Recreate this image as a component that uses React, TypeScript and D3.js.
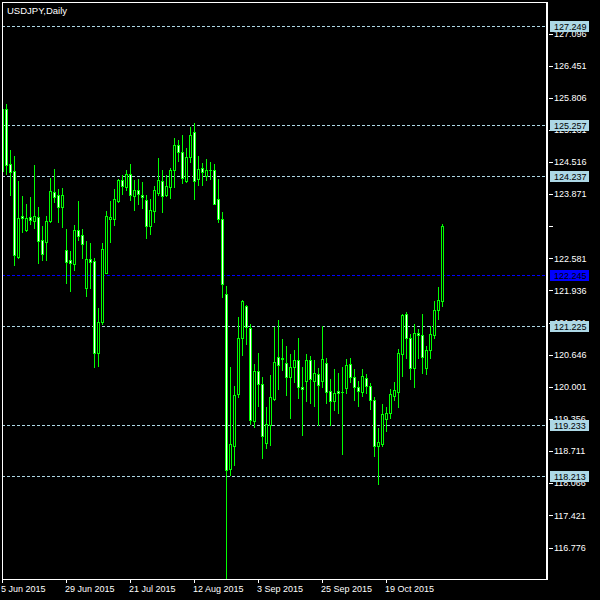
import React from "react";
import * as d3 from "d3";

const openP = [124.33,125.59,124.48,124.33,122.61,123.43,123.16,123.41,123.34,123.42,122.94,122.91,123.33,123.92,123.85,123.61,122.74,122.54,122.46,123.16,123.05,121.98,122.56,122.52,120.68,121.30,122.29,123.37,123.37,123.73,124.15,124.02,124.27,123.83,123.95,123.85,123.76,123.23,123.53,123.89,124.13,123.85,124.02,124.36,124.85,124.71,124.14,124.61,125.11,124.18,124.40,124.23,124.36,124.36,123.77,123.38,121.86,118.35,118.81,119.85,120.99,121.63,121.19,119.32,120.31,120.05,118.87,119.23,119.75,120.61,120.59,120.48,120.20,120.40,120.55,120.00,120.11,120.54,120.12,120.25,120.11,120.49,119.91,119.72,119.91,119.90,119.98,120.46,120.20,119.99,119.90,120.17,120.01,119.73,118.81,118.86,119.36,119.48,119.82,119.90,120.67,121.47,120.99,120.39,121.09,121.05,120.39,120.75,121.05,121.55,121.73];
const highP = [125.66,125.68,124.75,124.63,124.13,123.83,123.67,123.81,124.45,123.61,123.23,123.43,124.19,124.37,123.97,123.99,123.18,122.72,123.25,123.73,123.18,122.93,122.88,122.58,121.59,122.88,123.53,123.73,123.97,124.18,124.25,124.36,124.47,124.15,124.18,124.11,123.85,123.78,124.03,124.59,124.36,124.25,124.40,125.00,124.96,125.06,124.79,125.21,125.29,124.63,124.50,124.57,124.52,124.47,124.17,123.51,122.02,120.40,120.01,121.40,121.74,121.64,121.26,120.46,120.69,120.20,119.59,120.23,121.20,121.34,120.97,120.83,120.66,120.74,120.99,120.40,120.66,120.62,120.54,120.39,121.22,120.59,120.15,120.35,120.27,120.40,120.56,120.58,120.35,120.11,120.35,120.25,120.07,119.80,119.17,119.65,119.60,119.95,120.09,120.77,121.47,121.51,121.07,121.26,121.17,121.47,120.82,121.22,121.72,122.00,123.27];
const lowP = [124.31,124.27,123.85,122.44,122.59,123.11,123.13,123.27,123.20,122.48,122.54,122.54,123.32,123.71,123.31,123.21,122.09,121.93,122.34,122.94,122.58,121.82,121.98,120.40,120.43,121.27,122.28,122.91,123.25,123.71,123.88,123.95,123.75,123.55,123.68,123.59,122.99,123.07,123.31,123.85,123.51,123.84,123.79,124.02,124.54,124.10,124.11,124.52,123.78,124.05,124.05,124.15,124.17,123.67,123.31,121.81,116.17,118.23,118.43,119.79,120.64,120.86,119.26,119.20,119.61,118.58,118.78,118.83,119.74,119.95,120.33,119.83,119.38,120.10,119.78,119.04,119.72,119.68,119.62,119.23,120.00,119.68,119.24,119.53,119.48,118.66,119.87,120.10,119.73,119.62,119.82,119.87,119.55,118.61,118.06,118.81,119.12,119.38,119.73,119.60,120.22,120.58,120.15,120.00,120.58,120.27,120.25,120.59,120.99,121.36,121.62];
const closeP = [125.59,124.46,124.32,122.64,123.40,123.39,123.40,123.36,123.43,122.93,122.67,123.34,123.94,123.81,123.61,123.85,122.51,122.48,123.16,123.03,122.86,122.56,122.51,120.68,121.31,122.76,123.43,123.42,123.77,124.15,124.04,124.28,123.85,123.95,123.88,123.81,123.23,123.55,123.95,124.15,123.83,124.03,124.36,124.85,124.72,124.20,124.61,125.05,124.13,124.38,124.32,124.36,124.35,123.68,123.38,122.06,118.34,118.85,119.83,120.99,121.72,121.20,119.34,120.31,120.05,119.01,119.26,119.79,120.51,120.45,120.56,120.19,120.40,120.55,119.99,119.96,120.55,120.15,120.27,120.03,120.57,119.90,119.72,119.87,119.87,119.89,120.45,120.20,119.99,119.92,120.21,120.02,119.73,118.81,118.89,119.45,119.48,119.85,119.93,120.69,121.44,120.99,120.39,121.09,121.04,120.60,120.75,121.06,121.54,121.74,123.23];

const dateTickIndex = [0, 16, 32, 48, 64, 80, 96];
const dateTickLabels = ["5 Jun 2015", "29 Jun 2015", "21 Jul 2015", "12 Aug 2015", "3 Sep 2015", "25 Sep 2015", "19 Oct 2015"];

const priceTicks = [127.096,126.451,125.806,125.161,124.516,123.871,123.226,122.581,121.936,121.291,120.646,120.001,119.356,118.711,118.066,117.421,116.776];
const hiddenPriceLabels = [123.226];

const levelLines = [127.249, 125.257, 124.237, 121.225, 119.233, 118.213];
const bidPrice = 122.245;

const title = "USDJPY,Daily";

const GREEN = "#00FF00";
const LIGHTBLUE = "#ADD8E6";
const BLUE = "#0000FF";
const FONT = "'Liberation Sans', Arial, sans-serif";

export default function App() {
  const W = 600, H = 600;
  const left = 2, top = 2, right = 547, bottom = 579;
  const n = openP.length;
  const x = d3.scaleLinear().domain([0, n - 1]).range([2.5, 2.5 + 4 * (n - 1)]);
  const y = d3.scaleLinear().domain([116.776, 127.096]).range([547.5, 33.5]);
  const r = (v: number) => Math.round(v);

  const candles = d3.range(n).map((i) => {
    const cx = x(i);
    const o = openP[i], c = closeP[i];
    const yt = r(y(Math.max(o, c)));
    const yb = r(y(Math.min(o, c)));
    const bull = c >= o;
    return (
      <g key={i}>
        <line x1={cx} x2={cx} y1={r(y(highP[i]))} y2={r(y(lowP[i])) + 1} stroke={GREEN} strokeWidth={1} />
        {yb - yt >= 1 ? (
          <rect x={cx - 1} y={yt + 0.5} width={2} height={yb - yt} fill={bull ? "#000" : "#fff"} stroke={GREEN} strokeWidth={1} />
        ) : (
          <line x1={cx - 1.5} x2={cx + 1.5} y1={yt + 0.5} y2={yt + 0.5} stroke={GREEN} strokeWidth={1} />
        )}
      </g>
    );
  });

  return (
    <svg width={W} height={H} style={{ position: "fixed", left: 0, top: 0, background: "#000" }} shapeRendering="crispEdges">
      <rect x={0} y={0} width={W} height={H} fill="#000" />
      <defs>
        <clipPath id="plot">
          <rect x={left + 1} y={top + 1} width={right - left - 2} height={bottom - top - 1} />
        </clipPath>
      </defs>
      <text x={7} y={13.5} fill="#fff" fontFamily={FONT} fontSize={9.5}>{title}</text>
      <g clipPath="url(#plot)">
        {levelLines.map((p) => (
          <line key={p} x1={left} x2={right} y1={r(y(p)) + 0.5} y2={r(y(p)) + 0.5} stroke={LIGHTBLUE} strokeDasharray="3,2" />
        ))}
        <line x1={left} x2={right} y1={r(y(bidPrice)) + 0.5} y2={r(y(bidPrice)) + 0.5} stroke={BLUE} strokeDasharray="3,2" />
        {candles}
      </g>
      {/* frame */}
      <line x1={left} x2={right + 1} y1={top + 0.5} y2={top + 0.5} stroke="#fff" />
      <line x1={left + 0.5} x2={left + 0.5} y1={top} y2={bottom + 1} stroke="#fff" />
      <line x1={left} x2={right + 1} y1={bottom + 0.5} y2={bottom + 0.5} stroke="#fff" />
      <line x1={right} x2={right} y1={top} y2={bottom + 1} stroke="#fff" strokeWidth={2} />
      {/* price axis */}
      {priceTicks.map((p) => (
        <g key={p}>
          <line x1={549} x2={553} y1={r(y(p)) + 0.5} y2={r(y(p)) + 0.5} stroke="#fff" />
          {hiddenPriceLabels.includes(p) ? null : (
            <text x={554} y={y(p)} dy="0.35em" fill="#fff" fontFamily={FONT} fontSize={9}>{p.toFixed(3)}</text>
          )}
        </g>
      ))}
      {levelLines.map((p) => (
        <g key={"b" + p}>
          <rect x={550} y={r(y(p)) - 5} width={39} height={11} fill={LIGHTBLUE} />
          <text x={554} y={y(p) + 0.5} dy="0.35em" fill="#000" fontFamily={FONT} fontSize={9}>{p.toFixed(3)}</text>
        </g>
      ))}
      <rect x={550} y={r(y(bidPrice)) - 5} width={39} height={11} fill={BLUE} />
      <text x={554} y={y(bidPrice) + 0.5} dy="0.35em" fill="#000" fontFamily={FONT} fontSize={9}>{bidPrice.toFixed(3)}</text>
      {/* date axis */}
      {dateTickIndex.map((idx, k) => (
        <g key={idx}>
          <line x1={x(idx)} x2={x(idx)} y1={bottom} y2={bottom + 4} stroke="#fff" />
          <text x={x(idx) - 1.5} y={592} fill="#fff" fontFamily={FONT} fontSize={9}>{dateTickLabels[k]}</text>
        </g>
      ))}
    </svg>
  );
}
